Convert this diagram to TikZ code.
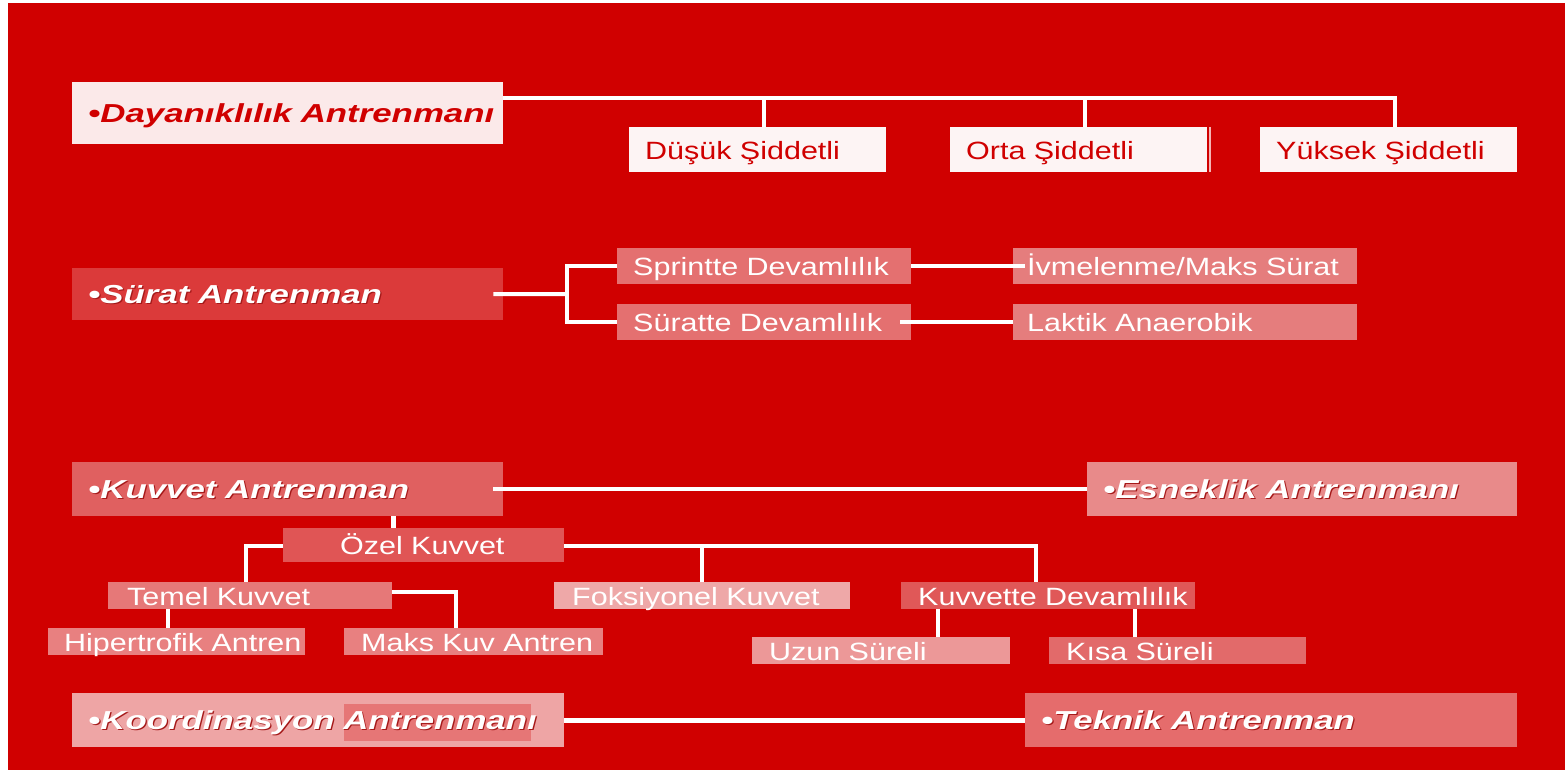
\documentclass[tikz,border=0pt]{standalone}
\usepackage{fontspec}
\usetikzlibrary{calc}
\setmainfont{Liberation Sans}
\newfontfamily\hdfont{Liberation Sans}[FakeStretch=1.34]
\newfontfamily\sbfont{Liberation Sans}[FakeStretch=1.22]
\definecolor{bgred}{RGB}{208,0,0}
\definecolor{shadowc}{RGB}{165,25,25}
\definecolor{cDay}{RGB}{251,233,233}
\definecolor{cSid}{RGB}{253,244,244}
\definecolor{cSur}{RGB}{219,58,58}
\definecolor{cSpr}{RGB}{228,112,112}
\definecolor{cIvm}{RGB}{229,125,125}
\definecolor{cKuv}{RGB}{224,96,96}
\definecolor{cEsn}{RGB}{232,138,138}
\definecolor{cOze}{RGB}{224,85,85}
\definecolor{cTem}{RGB}{230,120,120}
\definecolor{cHip}{RGB}{232,128,128}
\definecolor{cFok}{RGB}{238,168,168}
\definecolor{cKud}{RGB}{224,88,88}
\definecolor{cUzu}{RGB}{236,152,152}
\definecolor{cKis}{RGB}{226,106,106}
\definecolor{cKoo}{RGB}{238,165,165}
\definecolor{cKin}{RGB}{230,118,118}
\definecolor{cTek}{RGB}{229,108,108}
\definecolor{cEdge}{RGB}{245,180,180}
\newcommand{\txtshadow}[1]{\makebox[0pt][l]{\hspace{1.2pt}\raisebox{-1.2pt}{\color{shadowc}#1}}#1}
\begin{document}
\begin{tikzpicture}[x=1pt,y=-1pt,
  bx/.style={rectangle, anchor=north west, inner xsep=16pt, inner ysep=0pt, align=left},
  hd/.style={bx, font=\hdfont\bfseries\itshape\fontsize{26}{30}\selectfont, text=white, text height=22pt, text depth=4pt},
  sb/.style={bx, font=\sbfont\fontsize{25}{28}\selectfont, text=white, text height=21pt, text depth=2pt},
  conn/.style={draw=white, line width=4pt},
  thick conn/.style={draw=white, line width=5pt}]
\useasboundingbox (0,0) rectangle (1565,770);
\fill[white] (0,0) rectangle (1565,770);
\fill[bgred] (8,3) rectangle (1565,770);

% top level
\node[hd, fill=cDay, text=bgred, text width=399pt, minimum height=62pt] (dayan) at (72,82) {\mbox{•Dayanıklılık Antrenmanı}};
\node[sb, fill=cSid, text=bgred, text width=225pt, minimum height=45pt] (dusuk) at (629,127) {\mbox{Düşük Şiddetli}};
\node[sb, fill=cSid, text=bgred, text width=225pt, minimum height=45pt] (orta) at (950,127) {\mbox{Orta Şiddetli}};
\node[sb, fill=cSid, text=bgred, text width=225pt, minimum height=45pt] (yuksek) at (1260,127) {\mbox{Yüksek Şiddetli}};
\draw[cEdge, line width=2pt] ([xshift=3pt]orta.north east) -- ([xshift=3pt]orta.south east);

\coordinate (dtr) at (1395,98);
\draw[conn] (dayan.north east |- dtr) -| ([xshift=6.5pt]yuksek.north);
\draw[conn] ([xshift=6.5pt]dusuk.north) -- ([xshift=6.5pt]dusuk.north |- dtr);
\draw[conn] ([xshift=6.5pt]orta.north) -- ([xshift=6.5pt]orta.north |- dtr);

% Surat
\node[hd, fill=cSur, text width=399pt, minimum height=52pt] (surat) at (72,268) {\mbox{\txtshadow{•Sürat Antrenman}}};
\node[sb, fill=cSpr, text width=262pt, minimum height=36pt] (sprint) at (617,248) {\mbox{Sprintte Devamlılık}};
\node[sb, fill=cSpr, text width=262pt, minimum height=36pt] (suratte) at (617,304) {\mbox{Süratte Devamlılık}};
\node[sb, fill=cIvm, inner xsep=14pt, text width=316pt, minimum height=36pt] (ivme) at (1013,248) {\mbox{İvmelenme/Maks Sürat}};
\node[sb, fill=cIvm, inner xsep=14pt, text width=316pt, minimum height=36pt] (laktik) at (1013,304) {\mbox{Laktik Anaerobik}};

\coordinate (sbr) at (567,294);
\draw[conn] ([xshift=-10pt]surat.east) -- (sbr);
\draw[conn] (sprint.west) -| (sbr) |- (suratte.west);
\draw[conn] (sprint.east) -- ([xshift=12pt]ivme.west);
\draw[conn] ([xshift=-11pt]suratte.east) -- (laktik.west);

% Kuvvet
\node[hd, fill=cKuv, text width=399pt, minimum height=54pt] (kuvvet) at (72,462) {\mbox{\txtshadow{•Kuvvet Antrenman}}};
\node[hd, fill=cEsn, text width=398pt, minimum height=54pt] (esnek) at (1087,462) {\mbox{\txtshadow{•Esneklik Antrenmanı}}};
\draw[conn] ([xshift=-10pt]kuvvet.east) -- (esnek.west);

\node[sb, fill=cOze, text width=249pt, minimum height=34pt] (ozel) at (283,528) {\mbox{\hspace*{41pt}Özel Kuvvet}};
\draw[conn, line width=5pt] ([xshift=-30pt]ozel.north) -- ([xshift=-30pt]ozel.north |- kuvvet.south);

\node[sb, fill=cTem, inner xsep=19pt, text width=246pt, minimum height=27pt] (temel) at (108,582) {\mbox{Temel Kuvvet}};
\node[sb, fill=cHip, text width=225pt, minimum height=27pt] (hiper) at (48,628) {\mbox{Hipertrofik Antren}};
\node[sb, fill=cHip, inner xsep=17pt, text width=225pt, minimum height=27pt] (maks) at (344,628) {\mbox{Maks Kuv Antren}};
\node[sb, fill=cFok, inner xsep=18pt, text width=260pt, minimum height=27pt] (foks) at (554,582) {\mbox{Foksiyonel Kuvvet}};
\node[sb, fill=cKud, inner xsep=17pt, text width=260pt, minimum height=27pt] (kuvd) at (901,582) {\mbox{Kuvvette Devamlılık}};
\node[sb, fill=cUzu, inner xsep=17pt, text width=224pt, minimum height=27pt] (uzun) at (752,637) {\mbox{Uzun Süreli}};
\node[sb, fill=cKis, inner xsep=17pt, text width=223pt, minimum height=27pt] (kisa) at (1049,637) {\mbox{Kısa Süreli}};

\draw[conn] ([yshift=-1pt]ozel.west) -| ([xshift=-4pt]temel.north);
\draw[conn] ([yshift=-1pt]ozel.east) -| ([xshift=-12pt]kuvd.north);
\draw[conn] (foks.north) -- (foks.north |- ozel.east);
\draw[conn] ([xshift=-9pt]hiper.north) -- ([xshift=-9pt]hiper.north |- temel.south);
\draw[conn] ([yshift=4pt]temel.east) -| ([xshift=-18pt]maks.north);
\draw[conn] ([xshift=57pt]uzun.north) -- ([xshift=57pt]uzun.north |- kuvd.south);
\draw[conn] ([xshift=-43pt]kisa.north) -- ([xshift=-43pt]kisa.north |- kuvd.south);

% Koordinasyon / Teknik
\node[hd, fill=cKoo, text width=460pt, minimum height=54pt,
  path picture={\fill[cKin] ($(path picture bounding box.north west)+(272,11)$) rectangle ($(path picture bounding box.north west)+(459,48)$);}] (koord) at (72,693) {\mbox{\txtshadow{•Koordinasyon Antrenmanı}}};
\node[hd, fill=cTek, text width=460pt, minimum height=54pt] (teknik) at (1025,693) {\mbox{\txtshadow{•Teknik Antrenman}}};
\draw[thick conn] (koord.east) -- (teknik.west);
\end{tikzpicture}
\end{document}
